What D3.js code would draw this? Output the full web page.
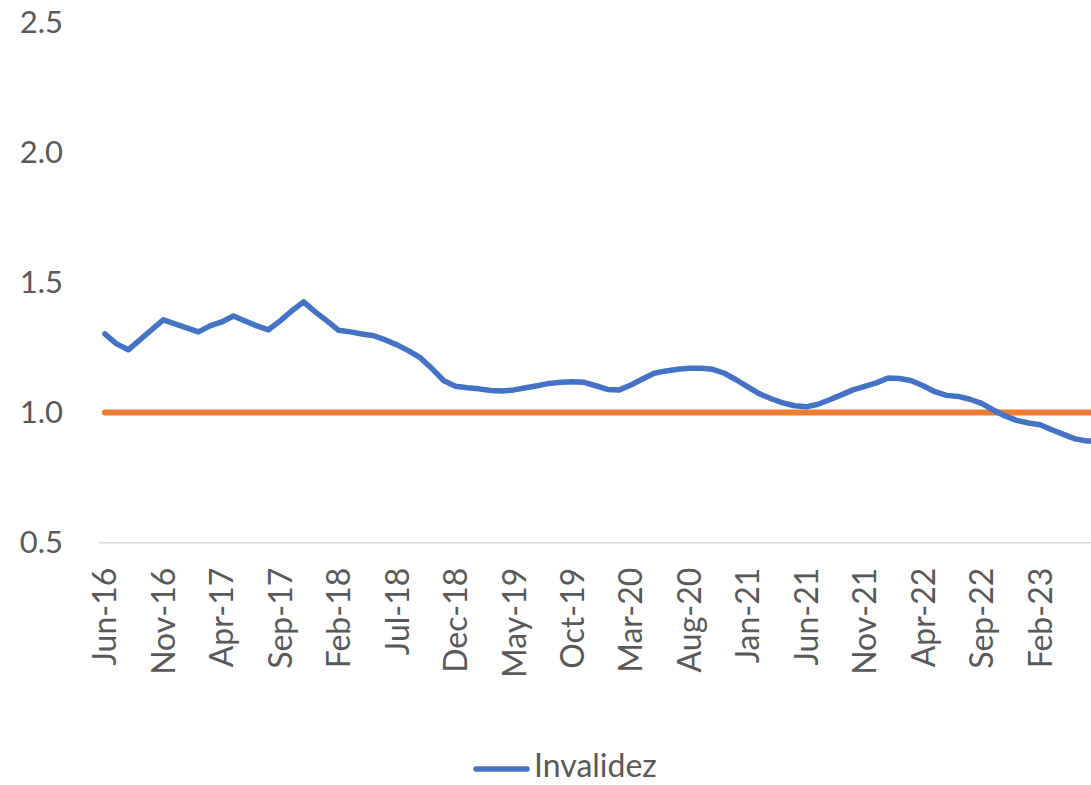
<!DOCTYPE html>
<html>
<head>
<meta charset="utf-8">
<script src="https://cdn.jsdelivr.net/npm/d3@7"></script>
<style>
  html, body { margin: 0; padding: 0; background: #fff; }
  svg { display: block; }
  text { font-family: Lato, "Open Sans", sans-serif; fill: #595959; }
</style>
</head>
<body>
<div id="chart"></div>
<script>
const categories = [
  "Jun-16","Jul-16","Aug-16","Sep-16","Oct-16","Nov-16","Dec-16",
  "Jan-17","Feb-17","Mar-17","Apr-17","May-17","Jun-17","Jul-17","Aug-17","Sep-17","Oct-17","Nov-17","Dec-17",
  "Jan-18","Feb-18","Mar-18","Apr-18","May-18","Jun-18","Jul-18","Aug-18","Sep-18","Oct-18","Nov-18","Dec-18",
  "Jan-19","Feb-19","Mar-19","Apr-19","May-19","Jun-19","Jul-19","Aug-19","Sep-19","Oct-19","Nov-19","Dec-19",
  "Jan-20","Feb-20","Mar-20","Apr-20","May-20","Jun-20","Jul-20","Aug-20","Sep-20","Oct-20","Nov-20","Dec-20",
  "Jan-21","Feb-21","Mar-21","Apr-21","May-21","Jun-21","Jul-21","Aug-21","Sep-21","Oct-21","Nov-21","Dec-21",
  "Jan-22","Feb-22","Mar-22","Apr-22","May-22","Jun-22","Jul-22","Aug-22","Sep-22","Oct-22","Nov-22","Dec-22",
  "Jan-23","Feb-23","Mar-23","Apr-23","May-23","Jun-23","Jul-23"
];

const invalidez = [
  1.302,1.264,1.241,1.279,1.318,1.356,1.341,
  1.325,1.310,1.333,1.348,1.371,1.352,1.333,1.318,1.352,1.391,1.425,1.387,
  1.352,1.316,1.310,1.302,1.295,1.279,1.260,1.237,1.210,1.168,1.122,1.101,
  1.095,1.091,1.085,1.083,1.087,1.095,1.103,1.112,1.116,1.118,1.116,1.103,
  1.089,1.087,1.106,1.129,1.151,1.160,1.166,1.170,1.170,1.166,1.151,1.126,
  1.099,1.072,1.053,1.037,1.026,1.022,1.032,1.049,1.068,1.087,1.101,1.114,
  1.133,1.131,1.122,1.103,1.080,1.066,1.062,1.051,1.035,1.010,0.987,0.970,
  0.960,0.953,0.934,0.916,0.899,0.891,0.891
];

const referencia = categories.map(() => 1.0);

const xTickLabels = ["Jun-16","Nov-16","Apr-17","Sep-17","Feb-18","Jul-18","Dec-18","May-19","Oct-19",
  "Mar-20","Aug-20","Jan-21","Jun-21","Nov-21","Apr-22","Sep-22","Feb-23"];
const yTicks = [0.5, 1.0, 1.5, 2.0, 2.5];
const legendLabels = ["Invalidez"];

const W = 1091, H = 785;
const svg = d3.select("#chart").append("svg").attr("width", W).attr("height", H);

const bandW = 11.69;
const x = d3.scaleBand()
  .domain(categories)
  .range([99, 99 + bandW * categories.length])
  .paddingInner(0).paddingOuter(0);
const xc = d => x(d) + x.bandwidth() / 2;

const y = d3.scaleLinear().domain([0.5, 2.5]).range([542.7, 22.1]);

// Y axis labels
const yAxis = d3.axisLeft(y).tickValues(yTicks).tickFormat(d3.format(".1f")).tickSize(0).tickPadding(0);
const gy = svg.append("g").attr("transform", "translate(63,0)").call(yAxis);
gy.select(".domain").remove();
gy.selectAll("text").style("font-size", "31px").attr("fill", "#595959")
  .style("font-family", "Lato, 'Open Sans', sans-serif");

// X axis
const xAxis = d3.axisBottom(x).tickValues(xTickLabels).tickSize(0).tickPadding(0);
const gx = svg.append("g").attr("transform", "translate(0,542.7)").call(xAxis);
gx.select(".domain").attr("stroke", "#d9d9d9").attr("stroke-width", 1.5)
  .attr("d", `M${x.range()[0]},0H${x.range()[1]}`);
gx.selectAll("text")
  .style("font-size", "32px").attr("fill", "#595959")
  .style("font-family", "Lato, 'Open Sans', sans-serif")
  .attr("text-anchor", "end")
  .attr("transform", "translate(0,25) rotate(-90)")
  .attr("x", 0).attr("y", 0).attr("dy", "0.36em");

// Lines
const line = d3.line().x((d, i) => xc(categories[i])).y(d => y(d));

svg.append("path")
  .datum(referencia)
  .attr("d", line)
  .attr("fill", "none")
  .attr("stroke", "#ED7D31")
  .attr("stroke-width", 6)
  .attr("stroke-linecap", "round")
  .attr("stroke-linejoin", "round");

svg.append("path")
  .datum(invalidez)
  .attr("d", line)
  .attr("fill", "none")
  .attr("stroke", "#4472C4")
  .attr("stroke-width", 5.5)
  .attr("stroke-linecap", "round")
  .attr("stroke-linejoin", "round");

// Legend
const lg = svg.append("g");
lg.append("line").attr("x1", 476).attr("x2", 527).attr("y1", 769).attr("y2", 769)
  .attr("stroke", "#4472C4").attr("stroke-width", 5.5).attr("stroke-linecap", "round");
lg.append("text").attr("x", 534).attr("y", 777).style("font-size", "32px").text(legendLabels[0]);
</script>
</body>
</html>
